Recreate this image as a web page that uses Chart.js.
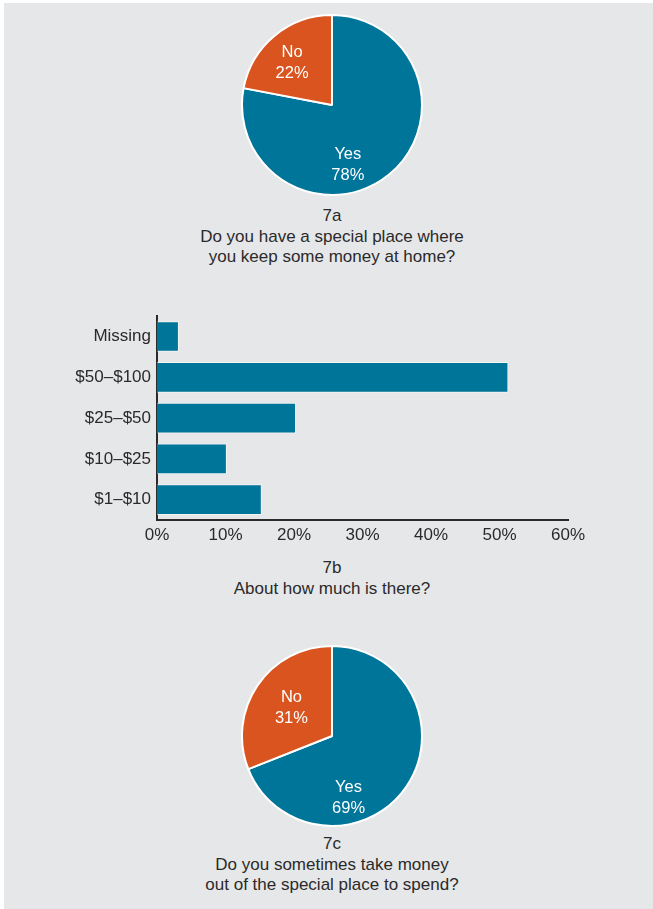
<!DOCTYPE html>
<html>
<head>
<meta charset="utf-8">
<script src="https://cdn.jsdelivr.net/npm/chart.js@4"></script>
<style>
  body { margin: 0; background: #fff; font-family: "Liberation Sans", Arial, sans-serif; }
  #panel { position: absolute; left: 4px; top: 3px; width: 649px; height: 906px; background: #e6e7e8; }
  .box { position: absolute; }
  .caption { position: absolute; left: 132px; width: 400px; text-align: center;
             font-size: 17px; line-height: 20.5px; color: #2b2a2b; }
</style>
</head>
<body>
<div id="panel"></div>

<div class="box" style="left:241px; top:14px;"><canvas id="pieHome" width="182" height="182"></canvas></div>
<div class="caption" style="top:206px;">7a<br>Do you have a special place where<br>you keep some money at home?</div>

<div class="box" style="left:60px; top:300px;"><canvas id="barAmount" width="540" height="250"></canvas></div>
<div class="caption" style="top:558px;">7b<br>About how much is there?</div>

<div class="box" style="left:241px; top:645px;"><canvas id="pieSpend" width="182" height="182"></canvas></div>
<div class="caption" style="top:834px;">7c<br>Do you sometimes take money<br>out of the special place to spend?</div>

<script>
const TEAL = '#00759a';
const ORANGE = '#d9541e';
const INK = '#2b2a2b';
const FONT = '"Liberation Sans", Arial, sans-serif';

// 7a
const homeLabels = ['Yes', 'No'];
const homeValues = [78, 22];

// 7b
const amountLabels = ['Missing', '$50–$100', '$25–$50', '$10–$25', '$1–$10'];
const amountValues = [3.2, 51.3, 20.3, 10.2, 15.3];
const pctMin = 0, pctMax = 60, pctStep = 10;

// 7c
const spendLabels = ['Yes', 'No'];
const spendValues = [69, 31];

// writes "label / value%" inside each slice; angle is clockwise from 12 o'clock,
// r is a fraction of the outer radius
const sliceLabels = {
  id: 'sliceLabels',
  afterDatasetsDraw(chart, args, opts) {
    const ctx = chart.ctx;
    const arcs = chart.getDatasetMeta(0).data;
    const values = chart.data.datasets[0].data;
    ctx.save();
    ctx.fillStyle = '#fff';
    ctx.font = '16.5px ' + FONT;
    ctx.textAlign = 'center';
    ctx.textBaseline = 'middle';
    arcs.forEach((arc, i) => {
      const spot = opts.spots[i];
      const a = spot.angle * Math.PI / 180;
      const x = arc.x + Math.sin(a) * arc.outerRadius * spot.r;
      const y = arc.y - Math.cos(a) * arc.outerRadius * spot.r;
      ctx.fillText(chart.data.labels[i], x, y - 10);
      ctx.fillText(values[i] + '%', x, y + 11);
    });
    ctx.restore();
  }
};

function makePie(id, labels, values, spots) {
  new Chart(document.getElementById(id), {
    type: 'pie',
    data: {
      labels: labels,
      datasets: [{
        data: values,
        backgroundColor: [TEAL, ORANGE],
        borderColor: '#fff',
        borderWidth: 2
      }]
    },
    options: {
      responsive: false,
      animation: false,
      layout: { padding: 0 },
      plugins: {
        legend: { display: false },
        tooltip: { enabled: false },
        sliceLabels: { spots: spots }
      }
    },
    plugins: [sliceLabels]
  });
}

makePie('pieHome', homeLabels, homeValues, [
  { angle: 165, r: 0.68 },
  { angle: -43, r: 0.65 }
]);

makePie('pieSpend', spendLabels, spendValues, [
  { angle: 165, r: 0.71 },
  { angle: -55, r: 0.55 }
]);

new Chart(document.getElementById('barAmount'), {
  type: 'bar',
  data: {
    labels: amountLabels,
    datasets: [{
      data: amountValues,
      backgroundColor: TEAL,
      borderColor: 'rgba(255,255,255,0.55)',
      borderWidth: 1,
      categoryPercentage: 1,
      barPercentage: 0.75
    }]
  },
  options: {
    indexAxis: 'y',
    responsive: false,
    animation: false,
    layout: { padding: { top: 13, right: 32, left: 0, bottom: 0 } },
    plugins: { legend: { display: false }, tooltip: { enabled: false } },
    scales: {
      x: {
        min: pctMin,
        max: pctMax,
        grid: { display: false, drawTicks: false, tickLength: 0 },
        border: { display: true, color: INK, width: 2 },
        ticks: {
          stepSize: pctStep,
          padding: 5,
          color: INK,
          font: { family: FONT, size: 17 },
          callback: v => v + '%'
        },
        afterFit: s => { s.height = 30; }
      },
      y: {
        grid: { display: false, drawTicks: false, tickLength: 0 },
        border: { display: true, color: INK, width: 2 },
        ticks: {
          padding: 6,
          color: INK,
          font: { family: FONT, size: 17 }
        },
        afterFit: s => { s.width = 97; }
      }
    }
  }
});
</script>
</body>
</html>
